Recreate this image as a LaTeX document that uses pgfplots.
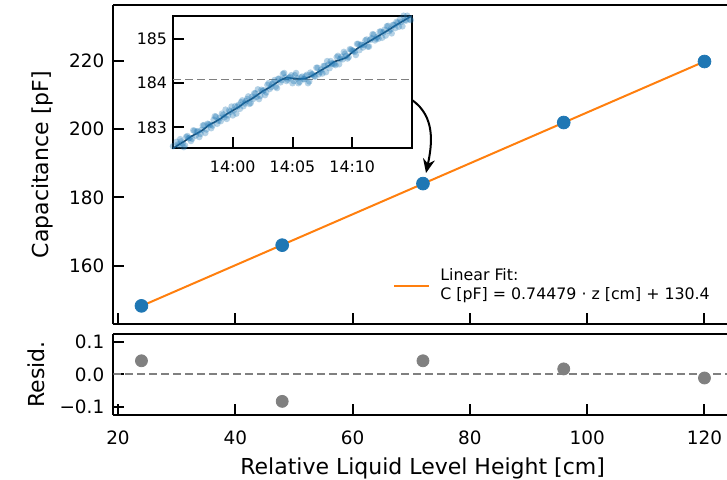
\documentclass[border=0pt]{standalone}
\usepackage{fontspec}
\setmainfont{DejaVu Sans}
\usepackage{pgfplots}
\usepackage{pgfplotstable}
\pgfplotsset{compat=1.18}
\usetikzlibrary{arrows.meta}
\definecolor{mplblue}{HTML}{1F77B4}
\definecolor{mplorange}{HTML}{FF7F0E}
\definecolor{mplgray}{HTML}{808080}
\definecolor{darkline}{HTML}{123F63}

% calibration points: height [cm], capacitance [pF], residual [pF]
\pgfplotstableread{
z    C       res
24   148.31  0.042
48   166.06  -0.083
72   184.07  0.042
96   201.92  0.017
120  219.76  -0.011
}\caldata

\pgfplotsset{
  panel/.style={
    scale only axis, anchor=north west,
    tick align=inside, xtick pos=left, ytick pos=left,
    axis line style={line width=1pt},
    major tick length=5.5pt,
    every tick/.style={black, line width=1pt},
    /pgf/number format/assume math mode=true,
    ticklabel style={font=\fontsize{9.2}{11}\selectfont},
    label style={font=\fontsize{11}{13}\selectfont},
  },
  % right spine lies just outside the picture in the reference
  cutright/.style={axis x line*=box, axis y line*=left},
  samples/.style={only marks, mark=*, mark size=1.65pt,
    mark options={draw opacity=0, fill=mplblue, fill opacity=0.33}},
}

\begin{document}
\begin{tikzpicture}
\path[use as bounding box] (0pt,0pt) rectangle (363.5pt,-239.5pt);

% main panel
\begin{axis}[panel, cutright,
  at={(56.65pt,-2.65pt)}, width=306.85pt, height=159.35pt,
  xmin=19.2, xmax=123.84, ymin=143.0, ymax=236.2,
  xtick={20,40,60,80,100,120}, xticklabels={},
  ytick={160,180,200,220},
  yticklabel style={xshift=-1pt},
  ylabel={Capacitance [pF]},
  ylabel style={at={(axis description cs:-0.1150,0.5)}, anchor=center},
  legend style={at={(axis cs:66.89,155.73)}, anchor=west, draw=none, fill=none,
    font=\fontsize{7.9}{9.5}\selectfont, inner sep=0pt,
    /tikz/every odd column/.append style={column sep=3pt}},
  legend cell align=left,
  legend image code/.code={\draw[#1] (0pt,-2.6pt) -- (17.5pt,-2.6pt);},
]
\addplot[only marks, mark=*, mark size=3.2pt, mplblue, forget plot] table[x=z, y=C] {\caldata};
\addplot[mplorange, line width=1pt] coordinates {(24,148.27) (120,219.77)};
\addlegendentry{\begin{tabular}{@{}l@{}}Linear Fit:\\C [pF] = 0.74479 · z [cm] + 130.4\end{tabular}}
\draw[-{Stealth[length=7pt,width=6pt]}, line width=1pt]
  (axis cs:70.13,208.51) to[out=-35,in=78] (axis cs:72.52,187.16);
\end{axis}

% residual panel
\begin{axis}[panel, cutright,
  at={(56.65pt,-167.15pt)}, width=306.85pt, height=40.35pt,
  xmin=19.2, xmax=123.84, ymin=-0.125, ymax=0.1235,
  xtick={20,40,60,80,100,120},
  ytick={-0.1,0,0.1}, yticklabels={−0.1,0.0,0.1},
  yticklabel style={xshift=-1pt},
  xticklabel style={yshift=-4.5pt},
  xlabel={Relative Liquid Level Height [cm]},
  ylabel={Resid.},
  ylabel style={at={(axis description cs:-0.1250,0.5)}, anchor=center},
  xlabel style={at={(axis description cs:0.504,-0.657)}, anchor=center},
]
\addplot[mplgray, line width=1pt, dash pattern=on 4pt off 2pt] coordinates {(19.2,0) (123.84,0)};
\addplot[only marks, mark=*, mark size=3pt, mplgray] table[x=z, y=res] {\caldata};
\end{axis}

% inset: time series around the 72 cm level
\begin{axis}[panel,
  at={(86.5pt,-7.85pt)}, width=119.5pt, height=66.15pt,
  axis background/.style={fill=white},
  xmin=-5, xmax=15, ymin=182.53, ymax=185.53,
  xtick={0,5,10}, xticklabels={14:00,14:05,14:10},
  ytick={183,184,185},
  ticklabel style={font=\fontsize{7.9}{9}\selectfont},
  xticklabel style={yshift=-3pt},
  yticklabel style={xshift=0.5pt},
]
\addplot[mplgray, line width=0.8pt, dash pattern=on 4pt off 2pt] coordinates {(-5,184.08) (15,184.08)};
\addplot[samples] coordinates {
(-5.0,182.57)(-4.8,182.47)(-4.6,182.61)(-4.4,182.73)(-4.2,182.63)(-4.0,182.59)
(-3.8,182.80)(-3.6,182.76)(-3.4,182.74)(-3.2,182.92)(-3.0,182.90)(-2.8,182.78)
(-2.6,182.94)(-2.4,183.05)(-2.2,182.95)(-2.0,183.07)(-1.8,182.98)(-1.6,183.17)
(-1.4,183.24)(-1.2,183.15)(-1.0,183.14)(-0.8,183.28)(-0.6,183.40)(-0.4,183.27)
(-0.2,183.35)(0.0,183.27)(0.2,183.48)(0.4,183.47)(0.6,183.42)(0.8,183.61)
(1.0,183.54)(1.2,183.64)(1.4,183.53)(1.6,183.69)(1.8,183.77)(2.0,183.69)
(2.2,183.64)(2.4,183.85)(2.6,183.84)(2.8,183.79)(3.0,184.00)(3.2,183.91)
(3.4,184.01)(3.6,183.92)(3.8,184.10)(4.0,184.02)(4.2,184.21)(4.4,184.13)
(4.6,184.08)(4.8,184.14)(5.0,184.00)(5.2,184.18)(5.4,184.11)(5.6,184.03)
(5.8,184.15)(6.0,184.09)(6.2,184.19)(6.4,184.04)(6.6,184.20)(6.8,184.16)
(7.0,184.35)(7.2,184.20)(7.4,184.31)(7.6,184.39)(7.8,184.25)(8.0,184.42)
(8.2,184.50)(8.4,184.44)(8.6,184.41)(8.8,184.62)(9.0,184.55)(9.2,184.54)
(9.4,184.67)(9.6,184.56)(9.8,184.77)(10.0,184.74)(10.2,184.71)(10.4,184.89)
(10.6,184.75)(10.8,184.87)(11.0,184.87)(11.2,184.99)(11.4,184.83)(11.6,185.02)
(11.8,185.10)(12.0,185.01)(12.2,185.01)(12.4,185.17)(12.6,185.15)(12.8,185.08)
(13.0,185.30)(13.2,185.22)(13.4,185.32)(13.6,185.25)(13.8,185.37)(14.0,185.45)
(14.2,185.29)(14.4,185.43)(14.6,185.53)(14.8,185.45)(15.0,185.55)
};
\addplot[samples] coordinates {
(-4.9,182.48)(-4.7,182.67)(-4.5,182.59)(-4.3,182.68)(-4.1,182.55)(-3.9,182.78)
(-3.7,182.75)(-3.5,182.69)(-3.3,182.93)(-3.1,182.81)(-2.9,182.91)(-2.7,182.85)
(-2.5,183.04)(-2.3,182.87)(-2.1,183.08)(-1.9,183.05)(-1.7,183.04)(-1.5,183.25)
(-1.3,183.08)(-1.1,183.21)(-0.9,183.31)(-0.7,183.23)(-0.5,183.19)(-0.3,183.38)
(-0.1,183.47)(0.1,183.39)(0.3,183.31)(0.5,183.51)(0.7,183.57)(0.9,183.48)
(1.1,183.59)(1.3,183.70)(1.5,183.55)(1.7,183.64)(1.9,183.77)(2.1,183.86)
(2.3,183.71)(2.5,183.82)(2.7,183.73)(2.9,183.96)(3.1,183.87)(3.3,183.98)
(3.5,184.07)(3.7,183.89)(3.9,184.10)(4.1,184.07)(4.3,184.23)(4.5,184.05)
(4.7,184.12)(4.9,184.18)(5.1,184.05)(5.3,184.23)(5.5,184.00)(5.7,184.13)
(5.9,184.09)(6.1,184.16)(6.3,184.00)(6.5,184.24)(6.7,184.20)(6.9,184.15)
(7.1,184.35)(7.3,184.25)(7.5,184.22)(7.7,184.39)(7.9,184.50)(8.1,184.34)
(8.3,184.45)(8.5,184.43)(8.7,184.59)(8.9,184.43)(9.1,184.60)(9.3,184.71)
(9.5,184.62)(9.7,184.59)(9.9,184.76)(10.1,184.73)(10.3,184.64)(10.5,184.89)
(10.7,184.87)(10.9,184.81)(11.1,184.97)(11.3,184.83)(11.5,184.98)(11.7,185.11)
(11.9,184.97)(12.1,185.05)(12.3,185.17)(12.5,185.03)(12.7,185.21)(12.9,185.29)
(13.1,185.18)(13.3,185.13)(13.5,185.32)(13.7,185.39)(13.9,185.28)(14.1,185.39)
(14.3,185.53)(14.5,185.42)(14.7,185.54)(14.9,185.43)
};
\addplot[darkline, line width=0.8pt] coordinates {
(-5.0,182.52)(-4.5,182.61)(-4.0,182.69)(-3.5,182.79)(-3.0,182.86)(-2.5,182.94)
(-2.0,183.05)(-1.5,183.12)(-1.0,183.20)(-0.5,183.30)(0.0,183.38)(0.5,183.46)
(1.0,183.56)(1.5,183.63)(2.0,183.72)(2.5,183.82)(3.0,183.89)(3.5,183.98)
(4.0,184.07)(4.5,184.13)(5.0,184.11)(5.5,184.10)(6.0,184.10)(6.5,184.15)
(7.0,184.23)(7.5,184.31)(8.0,184.39)(8.5,184.49)(9.0,184.53)(9.5,184.58)
(10.0,184.70)(10.5,184.80)(11.0,184.88)(11.5,184.96)(12.0,185.04)(12.5,185.12)
(13.0,185.20)(13.5,185.29)(14.0,185.37)(14.5,185.45)(15.0,185.53)
};
\end{axis}
\end{tikzpicture}
\end{document}
